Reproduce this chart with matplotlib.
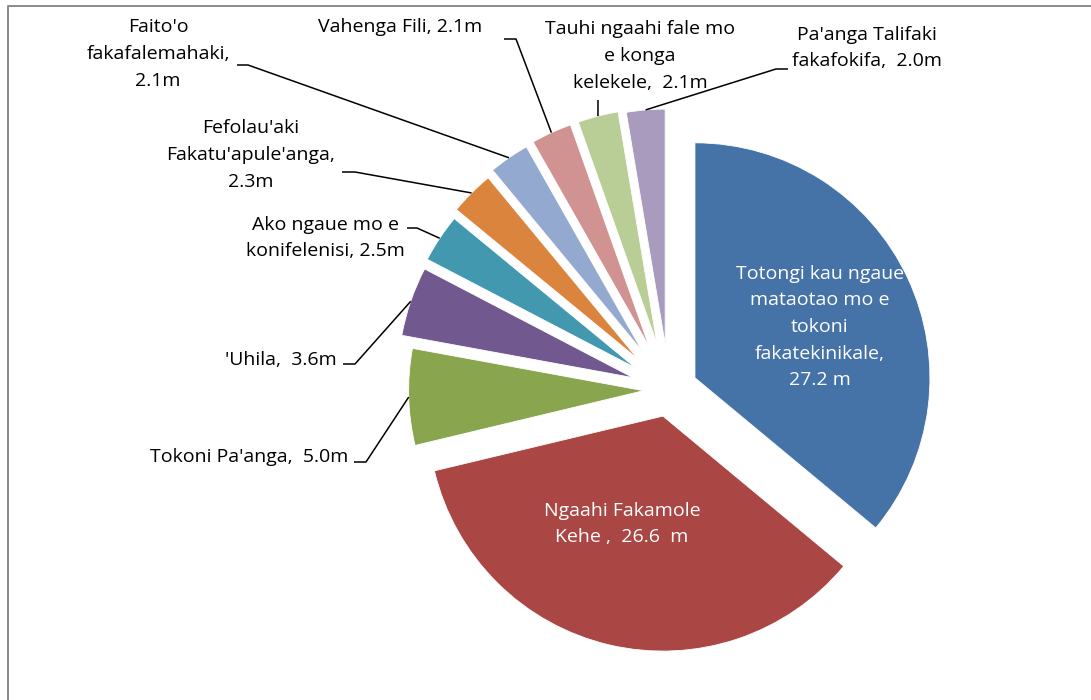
import numpy as np
import matplotlib.pyplot as plt

# Kostenaufteilung (Mio.) je Posten
names = [
    "Totongi kau ngaue\nmataotao mo e\ntokoni\nfakatekinikale,\n{} m",
    "Ngaahi Fakamole\nKehe ,  {}  m",
    "Tokoni Pa'anga,  {}m",
    "'Uhila,  {}m",
    "Ako ngaue mo e\nkonifelenisi, {}m",
    "Fefolau'aki\nFakatu'apule'anga,\n{}m",
    "Faito'o\nfakafalemahaki,\n{}m",
    "Vahenga Fili, {}m",
    "Tauhi ngaahi fale mo\ne konga\nkelekele,  {}m",
    "Pa'anga Talifaki\nfakafokifa,  {}m",
]
values = [27.2, 26.6, 5.0, 3.6, 2.5, 2.3, 2.1, 2.1, 2.1, 2.0]
colors = ["#4572A7", "#AA4643", "#89A54E", "#71588F", "#4198AF",
          "#DB843D", "#93A9CF", "#D19392", "#B9CD96", "#A99BBD"]

# Layout in Pixeln (y von oben gemessen)
W, H = 1091, 700
R = 235
center = (669, H - 390)
explode_frac = [0.122, 0.114, 0.108, 0.162, 0.17, 0.187, 0.2, 0.204, 0.204, 0.196]

# Beschriftung: Position, Ausrichtung, Textfarbe, Anfang der Führungslinie
label_pos = [(820, 327), (622, 524), (348, 457), (337, 360), (325, 238),
             (251, 155), (158, 54), (400, 27), (640, 56), (867, 48)]
label_ha = ["center", "center", "right", "right", "center",
            "center", "center", "center", "center", "center"]
label_col = ["white", "white"] + ["black"] * 8
leader = [None, None,
          [(354, 462), (366, 462)],
          [(343, 364), (355, 364)],
          [(407, 228), (417, 228)],
          [(342, 172), (355, 172)],
          [(237, 65), (248, 65)],
          [(504, 39), (516, 39)],
          [(598, 100), (598, 100)],
          [(788, 69), (776, 69)]]

plt.rcParams['font.family'] = ['Open Sans', 'DejaVu Sans']

fig = plt.figure(figsize=(W / 100, H / 100), dpi=100)
ax = fig.add_axes([0, 0, 1, 1])

wedges, _ = ax.pie(values, colors=colors, startangle=90, counterclock=False,
                   radius=R, center=center,
                   explode=[e * R for e in explode_frac],
                   wedgeprops=dict(edgecolor="white", linewidth=0.6))

for i, w in enumerate(wedges):
    txt = names[i].format(f"{values[i]:.1f}")
    x, y = label_pos[i]
    ax.text(x, H - y, txt, ha=label_ha[i], va="center", multialignment="center",
            color=label_col[i], fontsize=14, linespacing=1.62)
    if leader[i] is None:
        continue
    # Führungslinie endet auf dem Bogen in der Mitte des Segments
    tm = np.deg2rad((w.theta1 + w.theta2) / 2)
    ex = w.center[0] + w.r * np.cos(tm)
    ey = w.center[1] + w.r * np.sin(tm)
    (x0, y0), (x1, y1) = leader[i]
    ax.plot([x0, x1, ex], [H - y0, H - y1, ey], color="black", lw=1.1,
            solid_capstyle="butt")

# Rahmen oben und links
ax.plot([8, 8, W], [0, H - 6, H - 6], color="#8a8a8a", lw=1.4, clip_on=False)

ax.set_xlim(0, W)
ax.set_ylim(0, H)
ax.set_aspect("auto")
ax.axis("off")

fig.savefig("out.png", dpi=100)
